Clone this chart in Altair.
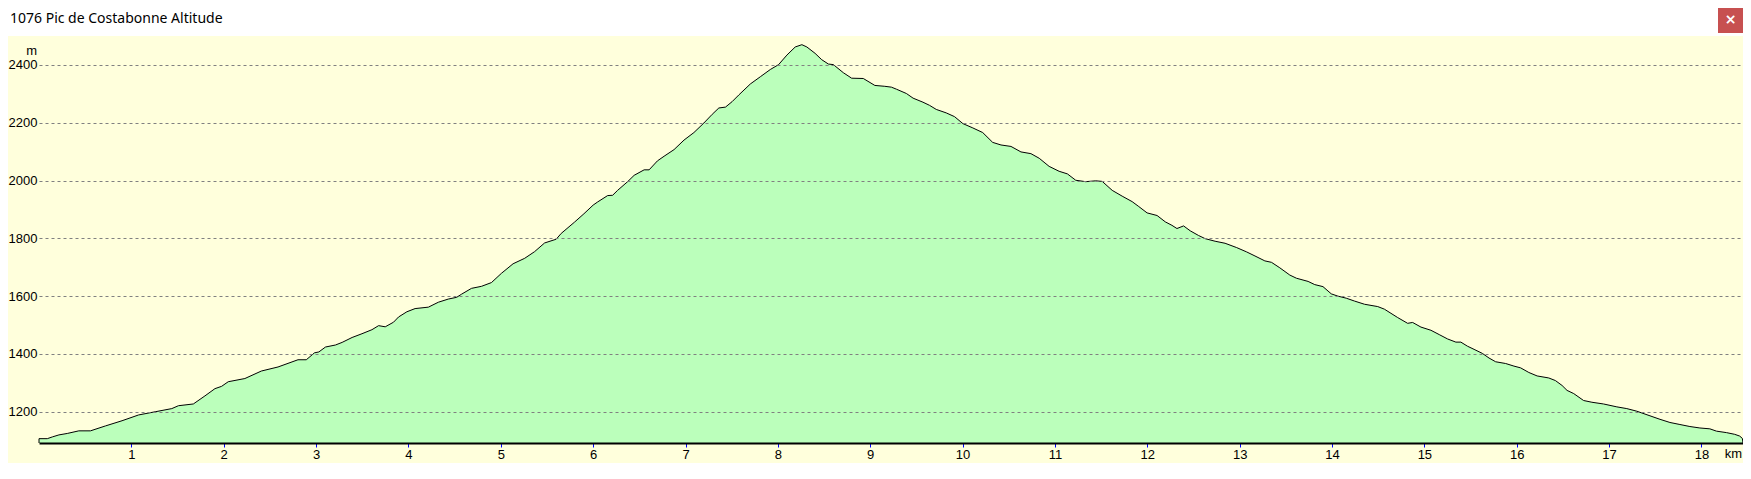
import altair as alt
import pandas as pd

# ---------------- data ----------------
title_text = ["1076 Pic de Costabonne Altitude"]
close_text = ["×"]
x_unit = ["km"]
y_unit = ["m"]

km = [
    0.000, 0.000, 0.090, 0.144, 0.216, 0.306, 0.431, 0.557, 0.719, 0.899,
    1.078, 1.258, 1.438, 1.510, 1.671, 1.797, 1.905, 1.977, 2.049, 2.229,
    2.408, 2.588, 2.804, 2.894, 2.983, 3.030, 3.102, 3.210, 3.282, 3.390,
    3.497, 3.605, 3.677, 3.749, 3.839, 3.893, 3.983, 4.072, 4.216, 4.324,
    4.432, 4.522, 4.576, 4.683, 4.791, 4.899, 5.007, 5.133, 5.259, 5.366,
    5.474, 5.600, 5.654, 5.798, 5.900, 6.000, 6.049, 6.157, 6.211, 6.265,
    6.373, 6.444, 6.552, 6.606, 6.696, 6.768, 6.876, 6.984, 7.091, 7.199,
    7.289, 7.361, 7.433, 7.505, 7.577, 7.702, 7.810, 7.918, 8.008, 8.098,
    8.188, 8.260, 8.314, 8.403, 8.475, 8.547, 8.601, 8.709, 8.799, 8.925,
    9.050, 9.158, 9.230, 9.284, 9.392, 9.464, 9.571, 9.643, 9.715, 9.823,
    9.913, 10.003, 10.111, 10.218, 10.326, 10.416, 10.524, 10.632, 10.740, 10.830,
    10.937, 11.045, 11.135, 11.225, 11.333, 11.441, 11.512, 11.620, 11.728, 11.836,
    11.908, 11.998, 12.106, 12.195, 12.267, 12.321, 12.393, 12.465, 12.554, 12.626,
    12.734, 12.842, 12.968, 13.076, 13.166, 13.273, 13.345, 13.435, 13.543, 13.615,
    13.741, 13.813, 13.902, 13.992, 14.064, 14.154, 14.244, 14.352, 14.495, 14.567,
    14.711, 14.819, 14.873, 14.963, 15.071, 15.161, 15.251, 15.341, 15.395, 15.466,
    15.538, 15.628, 15.700, 15.772, 15.880, 15.970, 16.042, 16.131, 16.221, 16.347,
    16.419, 16.491, 16.545, 16.617, 16.724, 16.814, 16.940, 17.084, 17.192, 17.300,
    17.443, 17.551, 17.659, 17.767, 17.875, 17.983, 18.091, 18.163, 18.270, 18.360,
    18.414, 18.443, 18.450,
]
altitude = [
    1092, 1107, 1107, 1113, 1120, 1125, 1134, 1134, 1151, 1169,
    1189, 1200, 1211, 1221, 1227, 1255, 1280, 1288, 1304, 1315,
    1341, 1355, 1380, 1380, 1404, 1407, 1424, 1431, 1440, 1457,
    1470, 1484, 1498, 1494, 1510, 1528, 1546, 1557, 1562, 1579,
    1590, 1596, 1607, 1627, 1634, 1647, 1679, 1712, 1731, 1754,
    1784, 1797, 1817, 1856, 1885, 1915, 1926, 1948, 1949, 1966,
    1996, 2018, 2037, 2037, 2068, 2084, 2107, 2140, 2166, 2199,
    2229, 2251, 2254, 2273, 2296, 2334, 2359, 2384, 2401, 2434,
    2462, 2470, 2462, 2440, 2418, 2403, 2401, 2373, 2354, 2353,
    2329, 2326, 2323, 2316, 2301, 2285, 2271, 2260, 2246, 2234,
    2221, 2197, 2182, 2166, 2132, 2123, 2118, 2099, 2093, 2077,
    2049, 2032, 2023, 2001, 1996, 1999, 1997, 1966, 1946, 1927,
    1910, 1888, 1879, 1857, 1845, 1834, 1843, 1826, 1810, 1799,
    1790, 1783, 1768, 1753, 1739, 1722, 1717, 1698, 1673, 1662,
    1651, 1640, 1633, 1608, 1600, 1593, 1583, 1572, 1564, 1555,
    1526, 1506, 1509, 1493, 1482, 1467, 1452, 1441, 1441, 1427,
    1416, 1402, 1386, 1373, 1367, 1358, 1352, 1336, 1324, 1317,
    1308, 1291, 1274, 1263, 1239, 1233, 1227, 1217, 1211, 1202,
    1186, 1174, 1163, 1156, 1149, 1144, 1141, 1133, 1128, 1122,
    1116, 1108, 1092,
]
x_ticks = list(range(1, 19))
y_ticks = [1200, 1400, 1600, 1800, 2000, 2200, 2400]
x_domain = [0, 18.45]
y_domain = [1092, 2500]

# ---------------- styles ----------------
W, H = 1704, 407
CREAM = "#FFFFDC"
GREEN = "#BBFFBB"
AXIS_FONT = "Liberation Sans"
FS = 13

df = pd.DataFrame({"km": km, "alt": altitude})

x_scale = alt.Scale(domain=x_domain, nice=False, zero=False)
y_scale = alt.Scale(domain=y_domain, nice=False, zero=False)

x_enc = alt.X(
    "km:Q",
    scale=x_scale,
    axis=alt.Axis(
        values=x_ticks,
        format="d",
        title=None,
        grid=False,
        domainColor="black",
        domainWidth=2,
        tickColor="#0000FF",
        tickSize=4,
        tickWidth=1,
        labelPadding=1,
        labelFont=AXIS_FONT,
        labelFontSize=FS,
        labelColor="black",
        labelFlush=False,
        labelOverlap=False,
        zindex=1,
    ),
)
y_enc = alt.Y(
    "alt:Q",
    scale=y_scale,
    stack=None,
    axis=alt.Axis(
        values=y_ticks,
        format="d",
        title=None,
        grid=True,
        gridColor="#808080",
        gridDash=[3, 3],
        gridWidth=1,
        domain=False,
        ticks=False,
        labelPadding=2,
        labelFont=AXIS_FONT,
        labelFontSize=FS,
        labelColor="black",
        labelOverlap=False,
        zindex=1,
    ),
)

fill = alt.Chart(df).mark_area(color=GREEN, opacity=1, interpolate="linear").encode(
    x=x_enc, y=y_enc, y2=alt.datum(y_domain[0])
)
outline = alt.Chart(df).mark_line(color="black", strokeWidth=1, interpolate="linear").encode(
    x=alt.X("km:Q"), y=alt.Y("alt:Q")
)

one = pd.DataFrame({"k": [0]})

title_band = alt.Chart(one).mark_rect(color="white").encode(
    x=alt.value(-31), x2=alt.value(W), y=alt.value(-28), y2=alt.value(0)
)
close_btn = alt.Chart(one).mark_rect(color="#C75050").encode(
    x=alt.value(W - 25), x2=alt.value(W), y=alt.value(-28), y2=alt.value(-3)
)
close_lbl = alt.Chart(pd.DataFrame({"t": close_text})).mark_text(
    color="white", font="DejaVu Sans", fontSize=14, fontWeight="bold",
    align="center", baseline="middle",
).encode(text="t:N", x=alt.value(W - 12.5), y=alt.value(-16))

title_lbl = alt.Chart(pd.DataFrame({"t": title_text})).mark_text(
    color="black", font="Noto Sans", fontSize=14, align="left", baseline="middle",
).encode(text="t:N", x=alt.value(-29), y=alt.value(-17))

m_lbl = alt.Chart(pd.DataFrame({"t": y_unit})).mark_text(
    color="black", font=AXIS_FONT, fontSize=FS, align="right", baseline="middle",
).encode(text="t:N", x=alt.value(-2), y=alt.value(15))

km_lbl = alt.Chart(pd.DataFrame({"t": x_unit})).mark_text(
    color="black", font=AXIS_FONT, fontSize=FS, align="right", baseline="top",
).encode(text="t:N", x=alt.value(W - 1), y=alt.value(H + 5))

chart = alt.layer(
    fill, outline, title_band, close_btn, close_lbl, title_lbl, m_lbl, km_lbl
).properties(
    width=W,
    height=H,
    autosize=alt.AutoSizeParams(type="none"),
    padding={"left": 31, "top": 28, "right": 0, "bottom": 20},
    background=CREAM,
).configure_view(stroke=None)

chart.save("out.html", embed_options={"renderer": "svg", "actions": False})
